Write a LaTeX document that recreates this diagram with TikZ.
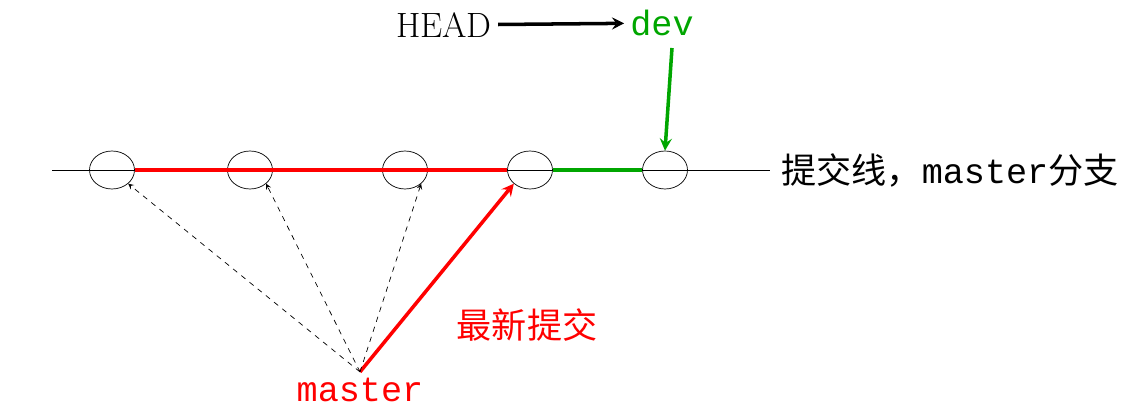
\documentclass[tikz,border=0pt]{standalone}
\usepackage{fontspec}
\usetikzlibrary{shapes.geometric}
\setmonofont{Liberation Mono}
\newfontfamily\cjk{Noto Sans CJK SC}
\begin{document}
\begin{tikzpicture}[x=0.02cm,y=-0.02cm,
    commit/.style={draw, ellipse, minimum width=0.9cm, minimum height=0.76cm, inner sep=0pt},
    lbl/.style={font=\fontsize{20}{24}\selectfont\ttfamily}]
				\useasboundingbox (0,0) rectangle (1142,411);
				% Commit line
				\coordinate (start) at (52,170);
				\coordinate (stop) at (770,170);
				\draw (start) -- (stop);
				\foreach \x [count=\i] in {112,250,405,530,665} {
					\node[commit] (c\i) at (\x,170) {};
				}
				\draw[red, line width=2pt] (c1.east) -- (c4.west);
				\draw[green!65!black, line width=2pt] (c4.east) -- (c5.west);
				
				% Labels
				\node[anchor=west, font=\fontsize{20}{24}\selectfont] (line) at (775,170) {{\cjk 提交线，}\texttt{master}{\cjk 分支}};
				\node[font=\fontsize{20}{24}\selectfont\rmfamily] (head) at (444,25) {HEAD};
				\node[lbl, text=green!65!black] (dev) at (662,23) {dev};
				\node[lbl, text=red] (master) at (360,390) {master};
				\node[font=\fontsize{20}{24}\selectfont\cjk, text=red] (newest) at (527,325) {最新提交};
				\coordinate (devtip) at (672,48);
				
				% Arrows
				\draw[->, line width=2pt, >=stealth] (head) -- (dev);
				\draw[->, green!65!black, line width=2pt, >=stealth] (devtip) -- (c5.north);
				\draw[->, red, line width=2pt, >=stealth] (master.north) -- (c4.south west);
				\foreach \i in {1,2,3} {
					\draw[->, dashed, >=stealth] (master.north) -- (c\i.south east);
				}
\end{tikzpicture}
\end{document}
